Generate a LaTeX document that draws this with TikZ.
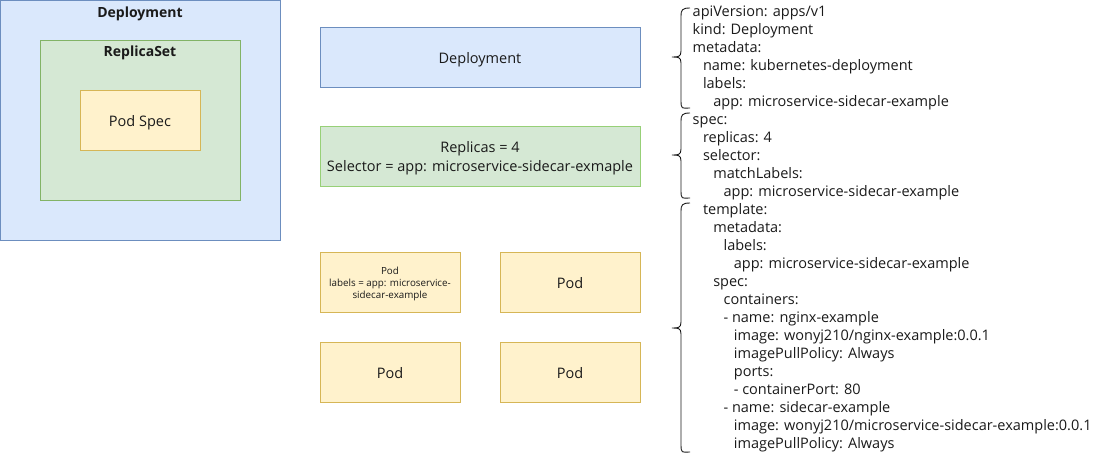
\documentclass[tikz,border=0pt]{standalone}
\usepackage{fontspec}
\setmainfont{Open Sans}
\definecolor{bfill}{HTML}{DAE8FC}
\definecolor{bline}{HTML}{6C8EBF}
\definecolor{gfill}{HTML}{D5E8D4}
\definecolor{gline}{HTML}{82B366}
\definecolor{gline2}{HTML}{97D077}
\definecolor{yfill}{HTML}{FFF2CC}
\definecolor{yline}{HTML}{D6B656}
\definecolor{txt}{HTML}{1A1A1A}
\tikzset{
  box/.style={draw, line width=1pt, inner sep=0pt},
  bluebox/.style={box, fill=bfill, draw=bline},
  greenbox/.style={box, fill=gfill, draw=gline},
  yellowbox/.style={box, fill=yfill, draw=yline},
  lbl/.style={inner sep=0pt, text=txt, align=center, font=\fontsize{14.5}{19}\selectfont},
  title/.style={font=\bfseries\fontsize{14}{16}\selectfont, text=txt, inner sep=0pt},
  yamlline/.style={anchor=base west, inner sep=0pt, text=txt, font=\fontsize{14.5}{18}\selectfont},
  bracel/.style={draw=txt, line width=0.9pt},
}
\newcommand{\yl}[3]{% line index, level, text
  \node[yamlline] (y#1) at ({692.5+10.3*#2},{-16.7-18*#1}) {#3};
}
\newcommand{\mybrace}[4]{% xr, y1, y2, ym
  \draw[bracel] (#1,-#2) .. controls (#1-8,-#2) and (#1-9,-#2-2) .. (#1-9,-#2-8)
    -- (#1-9,-#4+6) .. controls (#1-9,-#4) and (#1-12,-#4) .. (#1-18,-#4)
    .. controls (#1-12,-#4) and (#1-9,-#4) .. (#1-9,-#4-6)
    -- (#1-9,-#3+8) .. controls (#1-9,-#3-2) and (#1-8,-#3) .. (#1,-#3);
}
\begin{document}
\begin{tikzpicture}[x=1pt,y=1pt]
\useasboundingbox (0,0) rectangle (1111,-453);
% left nested diagram
\node[bluebox, minimum width=279.5pt, minimum height=239.5pt] (outer) at (140.25,-120.25) {};
\node[title] (dtitle) at (140,-14) {Deployment};
\node[greenbox, minimum width=200pt, minimum height=160pt] (inner) at (140,-120) {};
\node[title] (rtitle) at (140,-53) {ReplicaSet};
\node[yellowbox, minimum width=120pt, minimum height=60pt] (podspec) at (140,-120) {};
\node[lbl] (podspect) at ([yshift=-2.5pt]podspec.center) {Pod Spec};

% middle column
\node[bluebox, minimum width=320pt, minimum height=60pt] (dep) at (480,-57) {};
\node[lbl] (dept) at ([yshift=-2.5pt]dep.center) {Deployment};
\node[greenbox, draw=gline2, minimum width=320pt, minimum height=60pt] (rs) at (480,-156) {};
\node[lbl] (rst) at ([yshift=-2.5pt]rs.center) {Replicas = 4\\Selector = app: microservice-sidecar-exmaple};
\node[yellowbox, minimum width=140pt, minimum height=60pt] (pod1) at (390,-282) {};
\node[lbl, font=\fontsize{9.8}{12}\selectfont] (pod1t) at ([yshift=-2pt]pod1.center) {Pod\\labels = app: microservice-\\sidecar-example};
\node[yellowbox, minimum width=140pt, minimum height=60pt] (pod2) at (570,-282) {};
\node[lbl] (pod2t) at ([yshift=-1.5pt]pod2.center) {Pod};
\node[yellowbox, minimum width=140pt, minimum height=60pt] (pod3) at (390,-372) {};
\node[lbl] (pod3t) at ([yshift=-1.5pt]pod3.center) {Pod};
\node[yellowbox, minimum width=140pt, minimum height=60pt] (pod4) at (570,-372) {};
\node[lbl] (pod4t) at ([yshift=-1.5pt]pod4.center) {Pod};

% yaml text
\yl{0}{0}{apiVersion: apps/v1}
\yl{1}{0}{kind: Deployment}
\yl{2}{0}{metadata:}
\yl{3}{1}{name: kubernetes-deployment}
\yl{4}{1}{labels:}
\yl{5}{2}{app: microservice-sidecar-example}
\yl{6}{0}{spec:}
\yl{7}{1}{replicas: 4}
\yl{8}{1}{selector:}
\yl{9}{2}{matchLabels:}
\yl{10}{3}{app: microservice-sidecar-example}
\yl{11}{1}{template:}
\yl{12}{2}{metadata:}
\yl{13}{3}{labels:}
\yl{14}{4}{app: microservice-sidecar-example}
\yl{15}{2}{spec:}
\yl{16}{3}{containers:}
\yl{17}{3}{- name: nginx-example}
\yl{18}{4}{image: wonyj210/nginx-example:0.0.1}
\yl{19}{4}{imagePullPolicy: Always}
\yl{20}{4}{ports:}
\yl{21}{4}{- containerPort: 80}
\yl{22}{3}{- name: sidecar-example}
\yl{23}{4}{image: wonyj210/microservice-sidecar-example:0.0.1}
\yl{24}{4}{imagePullPolicy: Always}

% braces
\mybrace{690}{8}{108}{57}
\mybrace{690}{113}{198}{155}
\mybrace{690}{203}{452}{328}
\end{tikzpicture}
\end{document}
